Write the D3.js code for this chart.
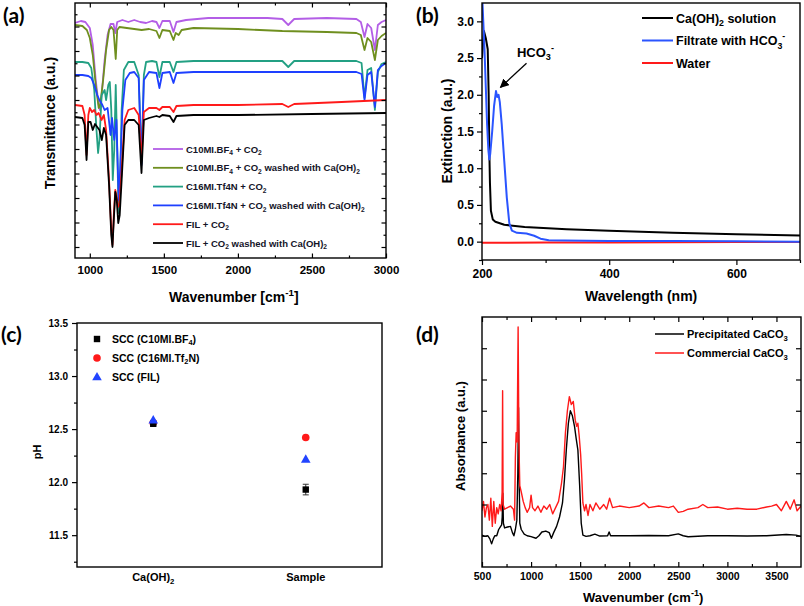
<!DOCTYPE html>
<html>
<head>
<meta charset="utf-8">
<script src="https://cdn.jsdelivr.net/npm/d3@7"></script>
<style>
  body { margin: 0; background: #fff; }
  svg { display: block; }
</style>
</head>
<body>
<script>
// ---------- data ----------
// (a) FTIR transmittance, [wavenumber, a.u.]
const bf4Co2 = [[900,235],[940,237],[970,236],[1000,230],[1020,213],[1040,178],[1060,153],[1068,148],[1080,163],[1100,198],[1120,223],[1140,234],[1160,234],[1172,225],[1185,236],[1220,238],[1260,236],[1300,238],[1340,236],[1380,235],[1420,237],[1450,236],[1470,230],[1490,237],[1540,237],[1565,226],[1585,236],[1650,238],[1800,240],[2000,240],[2200,240],[2300,239],[2340,233],[2380,239],[2600,240],[2800,239],[2830,236],[2855,221],[2875,234],[2900,230],[2925,208],[2945,233],[2970,236],[3000,238]];
const bf4Washed = [[900,233],[950,232],[980,228],[1000,220],[1020,203],[1040,173],[1060,150],[1070,153],[1090,178],[1110,208],[1130,228],[1145,231],[1160,228],[1175,199],[1185,228],[1200,231],[1250,230],[1300,229],[1350,228],[1400,229],[1450,227],[1470,220],[1490,228],[1540,227],[1565,218],[1580,225],[1600,223],[1620,228],[1700,230],[2000,229],[2300,227],[2600,226],[2800,225],[2830,223],[2855,208],[2875,220],[2900,216],[2925,198],[2945,218],[2970,222],[3000,225]];
const tf4nCo2 = [[900,196],[950,196],[990,195],[1010,190],[1030,168],[1045,128],[1056,105],[1065,118],[1080,163],[1100,168],[1110,158],[1125,173],[1135,176],[1145,148],[1155,78],[1165,108],[1175,173],[1185,108],[1195,45],[1205,78],[1215,148],[1230,188],[1260,196],[1300,196],[1330,183],[1349,95],[1365,183],[1380,196],[1420,197],[1450,196],[1470,181],[1490,196],[1540,196],[1565,186],[1585,196],[1700,197],[2000,197],[2300,197],[2340,191],[2380,197],[2800,197],[2835,195],[2855,160],[2875,188],[2900,190],[2925,148],[2945,186],[2970,194],[3000,196]];
const tf4nWashed = [[900,183],[950,183],[990,182],[1010,180],[1030,173],[1050,163],[1065,158],[1085,153],[1100,148],[1120,150],[1140,123],[1150,140],[1165,118],[1180,138],[1195,58],[1205,88],[1220,148],[1240,178],[1270,185],[1300,186],[1330,180],[1349,93],[1365,178],[1400,186],[1450,185],[1470,170],[1490,185],[1540,186],[1565,175],[1585,185],[1700,186],[2000,186],[2500,186],[2800,186],[2835,184],[2855,158],[2875,183],[2900,186],[2925,151],[2945,188],[2970,192],[3000,195]];
const filCo2 = [[900,153],[950,152],[965,143],[978,103],[990,143],[1000,150],[1015,146],[1030,148],[1045,143],[1060,145],[1079,138],[1095,143],[1110,128],[1130,78],[1145,28],[1153,13],[1162,43],[1172,68],[1180,63],[1190,51],[1200,53],[1215,88],[1235,138],[1260,148],[1300,150],[1330,143],[1349,98],[1365,146],[1400,150],[1450,150],[1470,148],[1490,151],[1540,151],[1565,146],[1585,152],[1700,153],[2000,153],[2300,154],[2340,151],[2380,154],[2700,156],[3000,158]];
const filWashed = [[900,141],[950,140],[965,133],[978,98],[990,136],[1005,136],[1020,128],[1035,134],[1050,131],[1065,128],[1081,118],[1095,130],[1110,123],[1130,73],[1145,23],[1153,11],[1162,38],[1172,66],[1182,58],[1192,35],[1202,43],[1215,78],[1235,133],[1260,138],[1300,138],[1330,133],[1349,85],[1365,138],[1400,140],[1450,142],[1470,141],[1490,143],[1540,142],[1565,136],[1585,142],[1700,143],[2000,143],[2500,144],[3000,145]];

const aSeries = [bf4Co2, bf4Washed, tf4nCo2, tf4nWashed, filCo2, filWashed];
const aColors = ['#b35ee6', '#6f8f1f', '#23a083', '#1e40ff', '#ff1a1a', '#000000'];
const aLabels = [
  [['C10MI.BF'], ['4', 'sub'], [' + CO'], ['2', 'sub']],
  [['C10MI.BF'], ['4', 'sub'], [' + CO'], ['2', 'sub'], [' washed with Ca(OH)'], ['2', 'sub']],
  [['C16MI.Tf4N + CO'], ['2', 'sub']],
  [['C16MI.Tf4N + CO'], ['2', 'sub'], [' washed with Ca(OH)'], ['2', 'sub']],
  [['FIL + CO'], ['2', 'sub']],
  [['FIL + CO'], ['2', 'sub'], [' washed with Ca(OH)'], ['2', 'sub']]
];
const aMajorX = [1000, 1500, 2000, 2500, 3000];
const aMinorX = [1250, 1750, 2250, 2750];

// (b) UV-vis extinction, [wavelength nm, a.u.]
const caOHSolution = [[200,2.5],[203,2.87],[206,2.77],[209,2.62],[210.5,2.0],[211.5,1.25],[212.5,0.8],[214,0.42],[217,0.3],[221,0.27],[235,0.23],[267,0.2],[333,0.17],[400,0.15],[500,0.12],[600,0.1],[700,0.085]];
const filtrateHCO3 = [[200,3.4],[202,3.0],[204,2.6],[206,2.1],[208,1.6],[210,1.25],[211.5,1.12],[213,1.2],[216,1.5],[219,1.85],[222,2.05],[224,1.97],[226,2.0],[228,1.9],[231,1.6],[235,1.1],[239,0.6],[243,0.25],[247,0.15],[255,0.12],[270,0.11],[282,0.08],[292,0.04],[305,0.02],[330,0.015],[400,0.01],[500,0.01],[600,0.005],[700,0.0]];
const water = [[200,-0.015],[300,-0.012],[400,-0.01],[500,-0.008],[600,-0.006],[700,-0.005]];
const bSeries = [caOHSolution, filtrateHCO3, water];
const bColors = ['#000000', '#2b55ff', '#ff1a1a'];
const bLabels = [
  [['Ca(OH)'], ['2', 'sub'], [' solution']],
  [['Filtrate with HCO'], ['3', 'sub'], ['-', 'sup']],
  [['Water']]
];

// (c) pH
const cCategories = ['Ca(OH)2', 'Sample'];
const phBF4 = [12.55, 11.93];
const phBF4Err = [0.01, 0.05];
const phTf2N = [12.56, 12.42];
const phFIL = [12.58, 12.21];
const cLabels = [
  [['SCC (C10MI.BF'], ['4', 'sub'], [')']],
  [['SCC (C16MI.Tf'], ['2', 'sub'], ['N)']],
  [['SCC (FIL)']]
];

// (d) FTIR absorbance, [wavenumber, a.u.]
const precipitated = [[500,1.02],[530,0.98],[560,1.0],[580,0.9],[598,0.74],[615,0.9],[630,1.0],[650,1.0],[670,1.2],[690,1.3],[700,1.35],[706,1.6],[712,2.36],[718,1.4],[730,1.25],[760,1.28],[790,1.3],[810,1.1],[825,1.0],[840,1.2],[855,1.5],[865,3.0],[872,5.1],[878,3.0],[885,1.4],[900,1.2],[930,1.05],[960,1.0],[1000,0.97],[1050,0.92],[1080,1.0],[1110,1.12],[1150,1.15],[1185,1.1],[1207,0.92],[1230,1.1],[1260,1.3],[1290,1.6],[1320,2.05],[1340,2.8],[1360,3.8],[1380,4.6],[1400,5.0],[1420,4.85],[1443,4.49],[1460,4.1],[1477,3.74],[1495,2.6],[1511,1.4],[1528,1.02],[1560,0.98],[1600,1.0],[1650,1.05],[1700,0.99],[1780,1.0],[1795,1.12],[1810,1.0],[1900,1.0],[2000,1.0],[2200,1.01],[2400,1.0],[2500,1.06],[2550,1.0],[2600,0.97],[2800,1.0],[3000,1.0],[3200,0.99],[3400,1.0],[3600,1.04],[3700,1.02],[3750,0.98]];
const commercial = [[500,1.8],[515,2.1],[530,1.6],[545,1.9],[560,2.0],[575,1.5],[590,2.2],[605,1.3],[620,2.1],[635,1.4],[650,1.9],[665,1.7],[680,2.0],[695,1.8],[705,2.4],[710,5.64],[715,2.0],[730,1.85],[760,1.9],[790,1.95],[820,1.85],[832,1.5],[840,3.5],[848,4.3],[858,4.0],[868,7.68],[876,4.0],[885,2.6],[900,2.4],[920,2.1],[940,1.9],[960,1.75],[985,1.9],[1000,2.3],[1015,1.9],[1040,1.8],[1070,1.95],[1100,1.75],[1130,1.95],[1160,1.85],[1190,2.0],[1220,1.7],[1250,1.9],[1280,2.1],[1310,2.68],[1330,3.2],[1350,4.3],[1370,5.0],[1390,5.45],[1410,5.2],[1430,5.3],[1450,4.7],[1465,4.5],[1477,4.6],[1490,4.2],[1505,3.6],[1515,3.0],[1528,2.05],[1545,1.8],[1560,2.0],[1580,1.65],[1600,2.0],[1630,1.8],[1660,2.05],[1700,1.85],[1740,2.0],[1770,1.85],[1800,2.2],[1830,1.9],[1900,1.95],[2000,1.9],[2100,1.95],[2150,2.05],[2200,1.9],[2300,1.95],[2400,1.9],[2450,1.95],[2500,1.75],[2550,1.78],[2600,1.85],[2700,1.9],[2750,2.0],[2800,1.9],[2900,1.92],[3000,1.85],[3100,1.88],[3200,1.85],[3300,1.85],[3400,1.92],[3450,1.95],[3500,2.0],[3550,1.8],[3600,2.1],[3640,1.85],[3680,2.15],[3710,1.8],[3750,1.95]];
const dSeries = [precipitated, commercial];
const dColors = ['#000000', '#ff1a1a'];
const dLabels = [
  [['Precipitated CaCO'], ['3', 'sub']],
  [['Commercial CaCO'], ['3', 'sub']]
];
const dMajorX = [500, 1000, 1500, 2000, 2500, 3000, 3500];

// ---------- helpers ----------
const FONT = '"Liberation Sans", Arial, sans-serif';

const svg = d3.select('body').append('svg')
    .attr('width', 804)
    .attr('height', 606);

function rich(text, parts, size) {
    let shift = 0;
    parts.forEach(([t, k]) => {
        const off = k === 'sub' ? size * 0.28 : k === 'sup' ? -size * 0.45 : 0;
        text.append('tspan')
            .attr('dy', off - shift)
            .attr('font-size', k ? size * 0.7 : size)
            .text(t);
        shift = off;
    });
}

function label(g, x, y, parts, size, rotate) {
    const t = g.append('text')
        .attr('font-family', FONT)
        .attr('font-weight', 'bold')
        .attr('font-size', size)
        .attr('fill', '#000');
    if (rotate) {
        t.attr('transform', `translate(${x},${y}) rotate(-90)`).attr('text-anchor', 'middle');
    } else {
        t.attr('x', x).attr('y', y);
    }
    rich(t, parts, size);
    return t;
}

function addAxis(g, axis, transform, fontSize) {
    const a = g.append('g').attr('transform', transform).call(axis);
    a.select('.domain').remove();
    a.selectAll('line').attr('stroke', '#000').attr('stroke-width', 1.2);
    a.selectAll('text')
        .attr('font-family', FONT)
        .attr('font-weight', 'bold')
        .attr('font-size', fontSize)
        .attr('fill', '#000');
    return a;
}

function frame(g, x, y) {
    g.append('rect')
        .attr('x', x.range()[0])
        .attr('y', y.range()[1])
        .attr('width', x.range()[1] - x.range()[0])
        .attr('height', y.range()[0] - y.range()[1])
        .attr('fill', 'none')
        .attr('stroke', '#000')
        .attr('stroke-width', 1.4);
}

function clip(id, x, y) {
    svg.append('clipPath').attr('id', id)
        .append('rect')
        .attr('x', x.range()[0])
        .attr('y', y.range()[1])
        .attr('width', x.range()[1] - x.range()[0])
        .attr('height', y.range()[0] - y.range()[1]);
    return `url(#${id})`;
}

function panelTag(x, y, s) {
    svg.append('text')
        .attr('x', x).attr('y', y)
        .attr('font-family', 'Lato, "Open Sans", sans-serif')
        .attr('font-weight', 'bold')
        .attr('font-size', 21)
        .text(s);
}

// ---------- (a) ----------
svg.append('clipPath').attr('id', 'clipA').append('rect')
    .attr('x', 0).attr('y', 0).attr('width', 400).attr('height', 310);
const pa = svg.append('g').attr('clip-path', 'url(#clipA)');
const ax = d3.scaleLinear().domain([900, 3000]).range([75, 386]);
const ay = d3.scaleLinear().domain([0, 255]).range([258, 3]);
const aYMajor = d3.range(11, 255, 24.5);
const aYMinor = d3.range(23.25, 255, 24.5);

const lineA = d3.line().x(d => ax(d[0])).y(d => ay(d[1]));
const plotA = pa.append('g').attr('clip-path', clip('clipAPlot', ax, ay));
aSeries.forEach((s, i) => {
    plotA.append('path')
        .datum(s)
        .attr('fill', 'none')
        .attr('stroke', aColors[i])
        .attr('stroke-width', 1.8)
        .attr('stroke-linejoin', 'round')
        .attr('d', lineA);
});

addAxis(pa, d3.axisBottom(ax).tickValues(aMajorX).tickSize(-4.5).tickPadding(8).tickFormat(d3.format('d')), 'translate(0,258)', 11.5);
addAxis(pa, d3.axisBottom(ax).tickValues(aMinorX).tickSize(-2.5).tickFormat(''), 'translate(0,258)', 11);
addAxis(pa, d3.axisTop(ax).tickValues(aMajorX).tickSize(-4.5).tickFormat(''), 'translate(0,3)', 11);
addAxis(pa, d3.axisTop(ax).tickValues(aMinorX).tickSize(-2.5).tickFormat(''), 'translate(0,3)', 11);
addAxis(pa, d3.axisLeft(ay).tickValues(aYMajor).tickSize(-4.5).tickFormat(''), 'translate(75,0)', 11);
addAxis(pa, d3.axisLeft(ay).tickValues(aYMinor).tickSize(-2.5).tickFormat(''), 'translate(75,0)', 11);
addAxis(pa, d3.axisRight(ay).tickValues(aYMajor).tickSize(-4.5).tickFormat(''), 'translate(386,0)', 11);
addAxis(pa, d3.axisRight(ay).tickValues(aYMinor).tickSize(-2.5).tickFormat(''), 'translate(386,0)', 11);
frame(pa, ax, ay);

// legend (a)
aLabels.forEach((parts, i) => {
    const y = 149 + i * 18.8;
    pa.append('line')
        .attr('x1', 153).attr('x2', 183).attr('y1', y).attr('y2', y)
        .attr('stroke', aColors[i]).attr('stroke-width', 1.8);
    label(pa, 186, y + 3.5, parts, 9.5).attr('fill', '#141428');
});

label(pa, 55, 123, [['Transmittance (a.u.)']], 14, true);
label(pa, 169, 302, [['Wavenumber [cm'], ['-1', 'sup'], [']']], 14);
panelTag(3, 23, '(a)');

// ---------- (b) ----------
const pb = svg.append('g');
const bx = d3.scaleLinear().domain([200, 700]).range([482, 800]);
const by = d3.scaleLinear().domain([-0.25, 3.25]).range([260, 3]);
const lineB = d3.line().x(d => bx(d[0])).y(d => by(d[1]));
const plotB = pb.append('g').attr('clip-path', clip('clipB', bx, by));
[2, 0, 1].forEach(i => {
    plotB.append('path')
        .datum(bSeries[i])
        .attr('fill', 'none')
        .attr('stroke', bColors[i])
        .attr('stroke-width', 2)
        .attr('stroke-linejoin', 'round')
        .attr('d', lineB);
});

addAxis(pb, d3.axisBottom(bx).tickValues([200, 400, 600]).tickSize(5).tickPadding(4).tickFormat(d3.format('d')), 'translate(0,260)', 12);
addAxis(pb, d3.axisBottom(bx).tickValues([300, 500, 700]).tickSize(3).tickFormat(''), 'translate(0,260)', 12);
addAxis(pb, d3.axisLeft(by).tickValues(d3.range(0, 3.01, 0.5)).tickSize(5).tickPadding(3).tickFormat(d3.format('.1f')), 'translate(482,0)', 12);
addAxis(pb, d3.axisLeft(by).tickValues([-0.25, 0.25, 0.75, 1.25, 1.75, 2.25, 2.75]).tickSize(3).tickFormat(''), 'translate(482,0)', 12);
frame(pb, bx, by);

// HCO3- arrow
svg.append('defs').append('marker')
    .attr('id', 'arrowhead')
    .attr('viewBox', '0 0 10 10')
    .attr('refX', 9).attr('refY', 5)
    .attr('markerWidth', 7).attr('markerHeight', 7)
    .attr('orient', 'auto')
    .append('path').attr('d', 'M0,0 L10,5 L0,10 z').attr('fill', '#000');
pb.append('line')
    .attr('x1', bx(270)).attr('y1', by(2.43))
    .attr('x2', bx(229)).attr('y2', by(2.1))
    .attr('stroke', '#000').attr('stroke-width', 1.3)
    .attr('marker-end', 'url(#arrowhead)');
label(pb, bx(255), by(2.52), [['HCO'], ['3', 'sub'], ['-', 'sup']], 13);

bLabels.forEach((parts, i) => {
    const y = 18 + i * 22.5;
    pb.append('line')
        .attr('x1', 642).attr('x2', 673).attr('y1', y).attr('y2', y)
        .attr('stroke', bColors[i]).attr('stroke-width', 2);
    label(pb, 676, y + 4.5, parts, 12.5);
});

label(pb, 452, 131, [['Extinction (a.u.)']], 14, true);
label(pb, 585, 301, [['Wavelength (nm)']], 14);
panelTag(416, 23, '(b)');

// ---------- (c) ----------
const pc = svg.append('g');
const cx = d3.scalePoint().domain(cCategories).range([77, 382]).padding(0.5);
const cy = d3.scaleLinear().domain([11.2, 13.5]).range([567, 323]);

addAxis(pc, d3.axisLeft(cy).tickValues([11.5, 12.0, 12.5, 13.0, 13.5]).tickSize(5).tickPadding(4).tickFormat(d3.format('.1f')), 'translate(77,0)', 10);
addAxis(pc, d3.axisLeft(cy).tickValues([11.25, 11.75, 12.25, 12.75, 13.25]).tickSize(3).tickFormat(''), 'translate(77,0)', 10);
frame(pc, cx, cy);

cCategories.forEach(c => {
    const t = label(pc, cx(c), 581, c === 'Ca(OH)2' ? [['Ca(OH)'], ['2', 'sub']] : [[c]], 11);
    t.attr('text-anchor', 'middle');
});

function square(g, x, y) {
    g.append('rect').attr('x', x - 3.2).attr('y', y - 3.2).attr('width', 6.4).attr('height', 6.4).attr('fill', '#000');
}
function circle(g, x, y) {
    g.append('circle').attr('cx', x).attr('cy', y).attr('r', 3.8).attr('fill', '#ff1a1a');
}
function triangle(g, x, y) {
    g.append('path').attr('d', d3.symbol(d3.symbolTriangle, 40)()).attr('transform', `translate(${x},${y})`).attr('fill', '#2244ff');
}

cCategories.forEach((c, i) => {
    circle(pc, cx(c), cy(phTf2N[i]));
    pc.append('line')
        .attr('x1', cx(c)).attr('x2', cx(c))
        .attr('y1', cy(phBF4[i] - phBF4Err[i])).attr('y2', cy(phBF4[i] + phBF4Err[i]))
        .attr('stroke', '#333').attr('stroke-width', 1);
    [phBF4[i] - phBF4Err[i], phBF4[i] + phBF4Err[i]].forEach(v => {
        pc.append('line')
            .attr('x1', cx(c) - 3).attr('x2', cx(c) + 3)
            .attr('y1', cy(v)).attr('y2', cy(v))
            .attr('stroke', '#333').attr('stroke-width', 1);
    });
    square(pc, cx(c), cy(phBF4[i]));
    triangle(pc, cx(c), cy(phFIL[i]));
});

square(pc, 97, 339);
circle(pc, 97, 358);
triangle(pc, 97, 377.5);
cLabels.forEach((parts, i) => {
    label(pc, 112, 339 + i * 19 + 3.5, parts, 10.5);
});

label(pc, 41, 452, [['pH']], 11, true);
panelTag(1, 342, '(c)');

// ---------- (d) ----------
const pd = svg.append('g');
const dx = d3.scaleLinear().domain([500, 3750]).range([482, 801]);
const dy = d3.scaleLinear().domain([0, 8]).range([567, 317]);
const lineD = d3.line().x(d => dx(d[0])).y(d => dy(d[1]));
const plotD = pd.append('g').attr('clip-path', clip('clipD', dx, dy));
dSeries.forEach((s, i) => {
    plotD.append('path')
        .datum(s)
        .attr('fill', 'none')
        .attr('stroke', dColors[i])
        .attr('stroke-width', 1.4)
        .attr('stroke-linejoin', 'round')
        .attr('d', lineD);
});

const dMinorX = d3.range(750, 3750, 500);
addAxis(pd, d3.axisBottom(dx).tickValues(dMajorX).tickSize(-5).tickPadding(6).tickFormat(d3.format('d')), 'translate(0,567)', 10.5);
addAxis(pd, d3.axisBottom(dx).tickValues(dMinorX).tickSize(-3).tickFormat(''), 'translate(0,567)', 10);
addAxis(pd, d3.axisTop(dx).tickValues(dMajorX).tickSize(-5).tickFormat(''), 'translate(0,317)', 10);
addAxis(pd, d3.axisTop(dx).tickValues(dMinorX).tickSize(-3).tickFormat(''), 'translate(0,317)', 10);
addAxis(pd, d3.axisLeft(dy).tickValues(d3.range(1, 8)).tickSize(-5).tickFormat(''), 'translate(482,0)', 10);
addAxis(pd, d3.axisRight(dy).tickValues(d3.range(1, 8)).tickSize(-5).tickFormat(''), 'translate(801,0)', 10);
frame(pd, dx, dy);

dLabels.forEach((parts, i) => {
    const y = 334 + i * 19;
    pd.append('line')
        .attr('x1', 655).attr('x2', 684).attr('y1', y).attr('y2', y)
        .attr('stroke', dColors[i]).attr('stroke-width', 1.5);
    label(pd, 687, y + 4, parts, 11);
});

label(pd, 465, 436, [['Absorbance (a.u.)']], 13, true);
label(pd, 583, 602, [['Wavenumber (cm'], ['-1', 'sup'], [')']], 13);
panelTag(416, 342, '(d)');
</script>
</body>
</html>
